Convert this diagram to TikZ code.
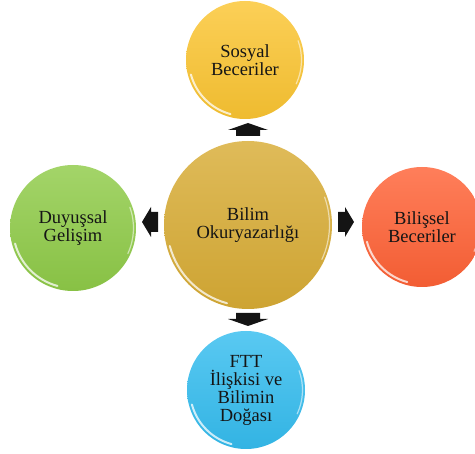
\documentclass[tikz,border=0pt]{standalone}
\usepackage{fontspec}
\setmainfont{Liberation Serif}
\usetikzlibrary{calc}
\definecolor{cgold}{HTML}{D8AC35}
\definecolor{cyel}{HTML}{FBC532}
\definecolor{cgreen}{HTML}{8FCB48}
\definecolor{cred}{HTML}{FF6236}
\definecolor{cblue}{HTML}{35BDEF}
\definecolor{txt}{HTML}{151515}
\tikzset{
  ball/.style n args={2}{circle, inner sep=0pt, minimum size=2*#2 pt, align=center, text=txt,
    font=\fontsize{18.5}{18}\selectfont,
    path picture={
      \shade[top color=#1!82!white, middle color=#1, bottom color=#1!95!black]
        (path picture bounding box.north west) rectangle (path picture bounding box.south east);
      \draw[white, line width=2pt, opacity=.75, line cap=round]
        ([shift={(195:{#2pt-3pt})}]path picture bounding box.center)
        arc[start angle=195, end angle=255, radius={#2pt-3pt}];
      \draw[white, line width=1.2pt, opacity=.55, line cap=round]
        ([shift={(-25:{#2pt-2.5pt})}]path picture bounding box.center)
        arc[start angle=-25, end angle=20, radius={#2pt-2.5pt}];
    }},
  blockarrowv/.pic={\fill[black!92] (-12,0) -- (-12,6) -- (-20,6) -- (0,13) -- (20,6) -- (12,6) -- (12,0) -- cycle;},
  blockarrowh/.pic={\fill[black!92] (-10,0) -- (-10,7) -- (-15,7) -- (0,16) -- (15,7) -- (10,7) -- (10,0) -- cycle;}
}
\begin{document}
\begin{tikzpicture}[x=1pt,y=1pt]
\useasboundingbox (0,0) rectangle (475,-454);
\node[ball={cgold}{84}] (c) at (248,-225) {Bilim\\Okuryazarlığı};
\node[ball={cyel}{59}] (t) at (245,-60) {Sosyal\\Beceriler};
\node[ball={cgreen}{63}] (l) at (73,-228) {Duyuşsal\\Gelişim};
\node[ball={cred}{60}] (r) at (422,-227) {Bilişsel\\Beceriler};
\node[ball={cblue}{59}] (b) at (246,-390) {FTT\\İlişkisi ve\\Bilimin\\Doğası};
\pic at (248,-136) {blockarrowv};
\pic[rotate=180] at (248,-313) {blockarrowv};
\pic[rotate=90] at (158,-222) {blockarrowh};
\pic[rotate=-90] at (338,-222) {blockarrowh};
\end{tikzpicture}
\end{document}
